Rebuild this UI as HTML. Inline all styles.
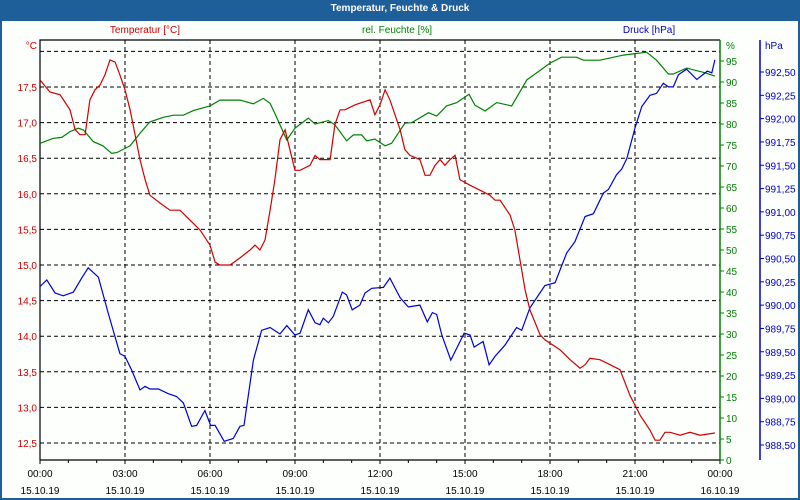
<!DOCTYPE html>
<html><head><meta charset="utf-8"><style>
html,body{margin:0;padding:0;background:#fff}
#wrap{position:relative;width:800px;height:500px;box-sizing:border-box;border:2px solid #1f5f99;border-top:none;background:#fcfffc;font-family:"Liberation Sans",sans-serif}
#title{position:absolute;left:-2px;top:0;width:800px;height:21px;background:#1f5f99;color:#fff;font-weight:bold;font-size:10px;text-align:center;line-height:18px}
svg{position:absolute;left:-2px;top:0}
text{font-family:"Liberation Sans",sans-serif;font-size:10px}
</style></head><body>
<div id="wrap">
<div id="title">Temperatur, Feuchte &amp; Druck</div>
<svg id="chart" width="800" height="500"></svg>
</div>
<script>
const tempTimes=[0,.35,.71,1.06,1.24,1.41,1.59,1.76,1.94,2.12,2.29,2.47,2.65,2.82,3.0,3.18,3.53,3.71,3.88,4.24,4.59,4.94,5.29,5.65,6.0,6.18,6.35,6.71,7.06,7.41,7.59,7.76,7.94,8.12,8.29,8.47,8.65,8.82,9.0,9.18,9.53,9.71,9.88,10.24,10.41,10.59,10.76,11.12,11.65,11.82,12.0,12.18,12.35,12.53,12.71,12.88,13.06,13.41,13.59,13.76,13.94,14.12,14.29,14.47,14.65,14.82,15.18,15.53,15.88,16.06,16.24,16.59,16.76,16.94,17.12,17.29,17.65,17.82,18.35,18.71,19.06,19.24,19.41,19.76,20.12,20.47,20.82,21.18,21.53,21.71,21.88,22.06,22.24,22.59,22.94,23.29,23.82];
const tempValues=[17.6,17.43,17.39,17.18,16.9,16.83,16.83,17.32,17.46,17.53,17.67,17.88,17.85,17.67,17.46,17.18,16.48,16.2,15.98,15.87,15.77,15.77,15.63,15.49,15.28,15.04,15.0,15.0,15.1,15.21,15.28,15.21,15.35,15.77,16.2,16.76,16.9,16.62,16.33,16.33,16.4,16.54,16.48,16.48,16.97,17.18,17.18,17.25,17.32,17.11,17.25,17.46,17.32,17.11,16.9,16.62,16.54,16.48,16.26,16.26,16.4,16.48,16.4,16.48,16.54,16.2,16.12,16.05,15.98,15.91,15.91,15.7,15.49,15.07,14.65,14.37,14.02,13.95,13.81,13.67,13.55,13.6,13.69,13.67,13.6,13.53,13.17,12.89,12.68,12.54,12.54,12.65,12.65,12.61,12.65,12.61,12.64];
const humTimes=[0,.47,.77,1.06,1.35,1.53,1.88,2.22,2.53,2.71,3.18,3.53,3.88,4.35,4.71,5.06,5.41,6.0,6.35,7.06,7.53,7.88,8.12,8.29,8.71,9.0,9.47,9.71,10.18,10.41,10.82,11.06,11.35,11.53,11.82,12.18,12.41,12.88,13.12,13.71,14.0,14.35,14.71,15.14,15.35,15.71,16.06,16.12,16.65,17.18,17.76,18.0,18.41,18.94,19.18,19.76,20.59,21.41,21.76,22.18,22.35,22.82,23.41,23.82];
const humValues=[75.4,76.6,76.8,78.2,79.0,78.6,75.8,74.8,73.0,73.2,74.8,77.8,80.5,81.6,82.1,82.1,83.2,84.3,85.7,85.7,84.8,86.1,84.9,82.5,76.2,79.0,81.4,80.0,80.8,79.8,76.0,77.4,77.4,76.0,76.4,74.8,75.4,80.2,80.3,82.7,81.9,84.3,85.1,87.1,84.5,83.1,84.8,85.1,84.3,90.5,93.3,94.5,95.9,95.9,95.2,95.2,96.4,97.1,95.2,91.9,91.9,93.3,92.3,91.4];
const presTimes=[0,.24,.53,.82,1.18,1.47,1.7,2.06,2.41,2.82,3.0,3.24,3.53,3.71,3.88,4.18,4.53,4.82,5.06,5.35,5.53,5.82,6.02,6.18,6.5,6.82,7.06,7.2,7.53,7.82,8.12,8.47,8.71,9.0,9.18,9.47,9.71,9.88,10.0,10.18,10.35,10.67,10.82,11.02,11.29,11.47,11.71,12.12,12.35,12.71,13.0,13.41,13.67,13.85,14.0,14.18,14.5,14.97,15.18,15.32,15.64,15.85,16.06,16.41,16.82,17.0,17.29,17.82,18.18,18.59,18.88,19.24,19.53,19.88,20.06,20.35,20.53,20.71,21.0,21.24,21.53,21.76,22.0,22.18,22.35,22.53,22.82,23.18,23.55,23.71,23.82];
const presValues=[990.2,990.27,990.13,990.1,990.14,990.29,990.4,990.3,989.91,989.48,989.45,989.3,989.09,989.13,989.1,989.1,989.05,989.02,988.95,988.7,988.71,988.87,988.71,988.71,988.54,988.57,988.7,988.71,989.41,989.73,989.76,989.69,989.78,989.68,989.7,989.95,989.81,989.79,989.86,989.81,989.88,990.14,990.11,989.95,990.0,990.13,990.18,990.19,990.29,990.08,989.98,990.0,989.82,989.92,989.9,989.68,989.41,989.7,989.68,989.55,989.61,989.36,989.45,989.57,989.76,989.73,989.97,990.21,990.24,990.56,990.68,990.95,990.98,991.2,991.24,991.4,991.46,991.57,991.9,992.13,992.25,992.27,992.38,992.34,992.34,992.47,992.53,992.42,992.51,992.49,992.63];
const tempTicks=["12,5","13,0","13,5","14,0","14,5","15,0","15,5","16,0","16,5","17,0","17,5"];
const tempTickVals=[12.5,13,13.5,14,14.5,15,15.5,16,16.5,17,17.5,18];
const humTicks=[0,5,10,15,20,25,30,35,40,45,50,55,60,65,70,75,80,85,90,95];
const presTicks=[988.5,988.75,989,989.25,989.5,989.75,990,990.25,990.5,990.75,991,991.25,991.5,991.75,992,992.25,992.5];
const timeLabels=["00:00","03:00","06:00","09:00","12:00","15:00","18:00","21:00","00:00"];
const dateLabels=["15.10.19","15.10.19","15.10.19","15.10.19","15.10.19","15.10.19","15.10.19","15.10.19","16.10.19"];

const L=40,R=720,T=40,B=460;
const xS=h=>L+(R-L)*h/24;
const yT=v=>87+(17.5-v)*71.2;
const yH=v=>B-(B-T)*v/100;
const yP=v=>72+(992.5-v)*93.25;
const svg=document.getElementById('chart');
const NS='http://www.w3.org/2000/svg';
function mk(tag,attrs,parent){const e=document.createElementNS(NS,tag);for(const k in attrs)e.setAttribute(k,attrs[k]);(parent||svg).appendChild(e);return e;}
function txt(x,y,s,fill,anchor){const e=mk('text',{x:x,y:y,fill:fill,'text-anchor':anchor||'start'});e.textContent=s;return e;}

tempTickVals.forEach(v=>{const g=mk('line',{x1:L,x2:R,y1:yT(v),y2:yT(v),stroke:'#000','stroke-dasharray':'4,3','stroke-width':1});

});
for(let i=1;i<8;i++){const g=mk('line',{x1:xS(i*3),x2:xS(i*3),y1:T,y2:B,stroke:'#000','stroke-dasharray':'4,3','stroke-width':1});

}
const fr=mk('path',{d:`M${L},${B}V${T}H${R}`,stroke:'#000',fill:'none','stroke-width':1.2});


const xa=mk('line',{x1:L,x2:R,y1:B,y2:B,stroke:'#000','stroke-width':1.2});


for(let h=0;h<=24;h++){const t=mk('line',{x1:xS(h),x2:xS(h),y1:B,y2:B+(h%3===0?4:3),stroke:'#000'});

}
timeLabels.forEach((s,i)=>{const a=txt(xS(i*3),477,s,'#000','middle');


const b=txt(xS(i*3),494,dateLabels[i],'#000','middle');

});
tempTicks.forEach(s=>{const v=parseFloat(s.replace(',','.'));const e=txt(37,yT(v)+4,s,'#d00000','end');

});
let e=txt(37,49,'°C','#d00000','end');


const ha=mk('line',{x1:R,x2:R,y1:T,y2:B,stroke:'#008000','stroke-width':1.5});


humTicks.forEach(v=>{const t=mk('line',{x1:R,x2:R+4,y1:yH(v),y2:yH(v),stroke:'#008000'});


const l=txt(726,yH(v)+4,String(v),'#008000');

});
e=txt(726,49,'%','#008000');


const pa=mk('line',{x1:760,x2:760,y1:T,y2:B,stroke:'#0000c0','stroke-width':1.5});


presTicks.forEach(v=>{const t=mk('line',{x1:760,x2:764,y1:yP(v),y2:yP(v),stroke:'#0000c0'});


const l=txt(765,yP(v)+4,v.toFixed(2).replace('.',','),'#0000c0');

});
e=txt(765,49,'hPa','#0000c0');


e=txt(145,33,'Temperatur [°C]','#d00000','middle');


e=txt(397,33,'rel. Feuchte [%]','#008000','middle');


e=txt(649,33,'Druck [hPa]','#0000c0','middle');


function line(ts,vs,fy,col,name){const d=ts.map((t,i)=>(i?'L':'M')+xS(t).toFixed(1)+','+fy(vs[i]).toFixed(1)).join('');
const p=mk('path',{d:d,stroke:col,fill:'none','stroke-width':1.2});

}
line(humTimes,humValues,yH,'#008000','humidity-line');
line(presTimes,presValues,yP,'#0000d0','pressure-line');
line(tempTimes,tempValues,yT,'#d00000','temperature-line');
</script>
</body></html>
